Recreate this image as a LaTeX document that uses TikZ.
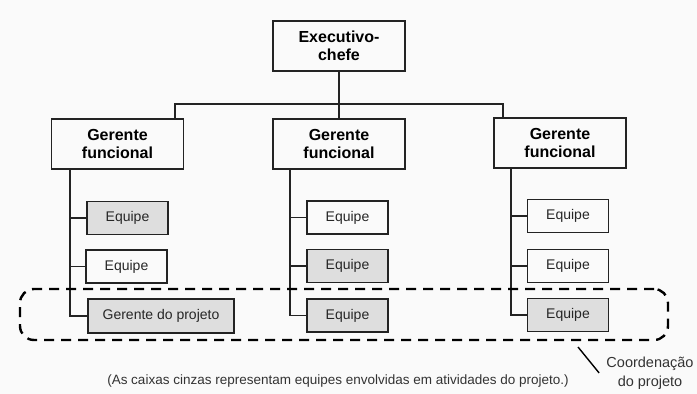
\documentclass[tikz,border=0pt]{standalone}
\usepackage{fontspec}
\setmainfont{Liberation Sans}
\definecolor{box_gray}{RGB}{222,222,222}
\definecolor{line_gray}{RGB}{35,35,35}
\definecolor{page_gray}{RGB}{250,250,250}

\begin{document}
\begin{tikzpicture}[x=1pt,y=-1pt,semithick]
    \tikzstyle{box}=[draw=line_gray, line width=1.7pt, rectangle, inner sep=0pt, text=black]
    \tikzstyle{boss}=[style=box, minimum width=132, minimum height=50, align=center, font=\fontsize{16}{18}\selectfont\bfseries]
    \tikzstyle{team}=[style=box, minimum width=81, minimum height=33, text=black!85, font=\fontsize{14}{16}\selectfont]
    \tikzstyle{grey}=[fill=box_gray]
    \tikzstyle{link}=[draw=line_gray, line width=1.6pt]
    \tikzstyle{frame}=[draw=black, line width=2.4pt, dash pattern=on 10pt off 7pt, rounded corners=14pt, minimum width=648, minimum height=51, inner sep=0pt]
    \tikzstyle{note}=[text=black!80, inner sep=0pt]

    \useasboundingbox[fill=page_gray] (0,0) rectangle (697,394);

    \node[boss] (chief) at (339,46)    {Executivo-\\chefe};
    \node[boss] (gf1)   at (117.5,144) {Gerente\\funcional};
    \node[boss] (gf2)   at (339,144)   {Gerente\\funcional};
    \node[boss] (gf3)   at (560,143)   {Gerente\\funcional};

    \coordinate (bus1) at (175,104);
    \coordinate (bus3) at (503,104);
    \coordinate (br1)  at (70,169);
    \coordinate (br2)  at (290,169);
    \coordinate (br3)  at (511,168);

    \node[team,grey] (e11) at (127.5,218)   {Equipe};
    \node[team]      (e12) at (126.5,266.5) {Equipe};
    \node[team,grey,minimum width=146,minimum height=34] (pm) at (161,316) {Gerente do projeto};
    \node[team]      (e21) at (347.5,217.5) {Equipe};
    \node[team,grey] (e22) at (347.5,266)   {Equipe};
    \node[team,grey] (e23) at (347.5,315.5) {Equipe};
    \node[team]      (e31) at (568,216)     {Equipe};
    \node[team]      (e32) at (568,266)     {Equipe};
    \node[team,grey] (e33) at (568,315)     {Equipe};

    \draw[link] (chief.south) -- (gf2.north);
    \draw[link] (bus1 |- gf1.north) -- (bus1) -- (bus3) -- (bus3 |- gf3.north);
    \draw[link] (br1) |- (pm.west);
    \draw[link] (br2) |- (e23.west);
    \draw[link] (br3) |- (e33.west);
    \path[link]
     (br1 |- e11.west) edge[] (e11.west)
     (br1 |- e12.west) edge[] (e12.west)
     (br2 |- e21.west) edge[] (e21.west)
     (br2 |- e22.west) edge[] (e22.west)
     (br3 |- e31.west) edge[] (e31.west)
     (br3 |- e32.west) edge[] (e32.west)
     ;

    % coordenacao do projeto
    \node[frame] (proj) at (344,314.5) {};
    \node[note, align=center, font=\fontsize{14.5}{19}\selectfont] (lbl) at (650,373) {Coordenação\\do projeto};
    \coordinate (tick) at (578,347);
    \draw[line width=1.4pt] (tick) -- ([xshift=-7]lbl.west);

    \node[note, font=\fontsize{13.5}{15}\selectfont] (cap) at (338,381) {(As caixas cinzas representam equipes envolvidas em atividades do projeto.)};
\end{tikzpicture}
\end{document}
